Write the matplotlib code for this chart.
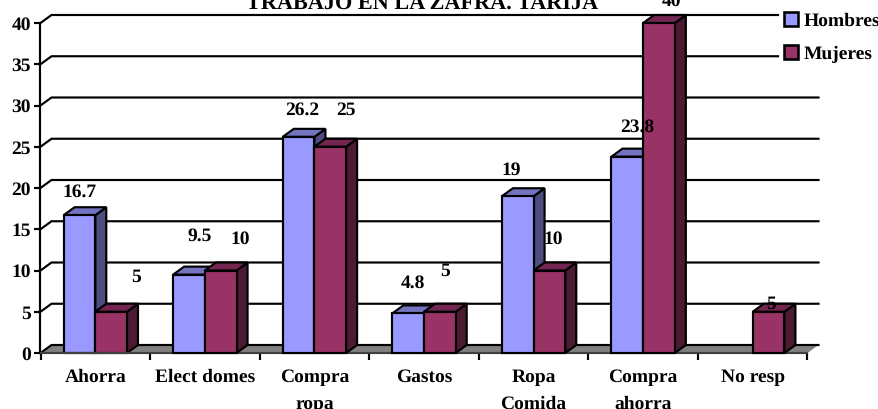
import numpy as np
import matplotlib
matplotlib.use("Agg")
import matplotlib.pyplot as plt
from matplotlib.patches import Patch, Polygon

plt.rcParams["text.hinting"] = "no_hinting"

categories = ["Ahorra", "Elect domes", "Compra\nropa", "Gastos", "Ropa\nComida", "Compra\nahorra", "No resp"]
hombres = [16.7, 9.5, 26.2, 4.8, 19, 23.8, None]
mujeres = [5, 10, 25, 5, 10, 40, 5]
y_ticks = [0, 5, 10, 15, 20, 25, 30, 35, 40]
title = "TRABAJO EN LA ZAFRA. TARIJA"

# where the labels ended up in the original chart, pixels from the bar top
hombres_off = [(0, 23), (11, 38), (4, 27), (5, 30), (-7, 26), (10, 29), None]
mujeres_off = [(25, 35), (19, 31), (16, 37), (5, 41), (4, 31), (12, 22), (3, 8)]

W, H = 879, 409
FONT = "Liberation Serif"
FS = 14
LW = 1.55

fig = plt.figure(figsize=(W / 100, H / 100), dpi=100)
ax = fig.add_axes([40.5 / W, (H - 353) / H, 767 / W, 330 / H])
ax.set_xlim(-0.5, 6.5)
ax.set_ylim(0, 40)

# depth of the fake 3D, in data units
px_x = 7 / 767
px_y = 40 / 330
dx = 11 * px_x
dy = 8 * px_y
bar_w = 31.7 * px_x


def poly(pts, color, z):
    ax.add_patch(Polygon(pts, closed=True, facecolor=color, edgecolor="black",
                         linewidth=LW, joinstyle="miter", clip_on=False, zorder=z))


def bar3d(x0, val, front, top, side, z):
    x1 = x0 + bar_w
    poly([(x1, 0), (x1 + dx, dy), (x1 + dx, val + dy), (x1, val)], side, z)
    poly([(x0, val), (x0 + dx, val + dy), (x1 + dx, val + dy), (x1, val)], top, z)
    poly([(x0, 0), (x1, 0), (x1, val), (x0, val)], front, z)


# gridlines run up the side wall then along the back
for v in y_ticks[1:]:
    end = 6.5 + dx
    if v >= 35:
        end = -0.5 + (778 - 40.5) * px_x
    ax.plot([-0.5, -0.5 + dx, end], [v, v + dy, v + dy], color="black", lw=LW,
            clip_on=False, zorder=1, solid_joinstyle="miter")

# floor
ax.add_patch(Polygon([(-0.5, 0), (-0.5 + dx, dy), (6.5 + dx, dy), (6.5, 0)], closed=True,
                     facecolor="#808080", edgecolor="none", clip_on=False, zorder=1.5))
ax.plot([-0.5, -0.5 + dx, 6.5 + dx], [0, dy, dy], color="black", lw=LW, clip_on=False, zorder=1.6)

for i in range(len(categories)):
    if hombres[i] is not None:
        bar3d(i - bar_w, hombres[i], "#9999FF", "#7373BF", "#4D4D80", 2 + i)
    if mujeres[i] is not None:
        bar3d(i, mujeres[i], "#993366", "#732650", "#4D1A33", 2.5 + i)

for i in range(len(categories)):
    if hombres[i] is not None:
        ax.annotate(str(hombres[i]), (i - bar_w / 2, hombres[i]), xytext=hombres_off[i],
                    textcoords="offset pixels", ha="center", va="center", family=FONT,
                    weight="bold", fontsize=FS, annotation_clip=False, zorder=20)
    ax.annotate(str(mujeres[i]), (i + bar_w / 2, mujeres[i]), xytext=mujeres_off[i],
                textcoords="offset pixels", ha="center", va="center", family=FONT,
                weight="bold", fontsize=FS, annotation_clip=False, zorder=20)

for s in ["top", "right"]:
    ax.spines[s].set_visible(False)
ax.spines["left"].set_linewidth(LW)
ax.spines["bottom"].set_linewidth(LW)
ax.spines["bottom"].set_color("#404040")
ax.set_axisbelow(True)

ax.set_yticks(y_ticks)
ax.set_yticklabels(y_ticks, family=FONT, weight="bold", fontsize=FS)
ax.tick_params(axis="y", length=4, width=LW, pad=3)
ax.set_xticks(np.arange(len(categories)))
ax.set_xticklabels(categories, family=FONT, weight="bold", fontsize=FS, linespacing=1.75)
ax.tick_params(axis="x", which="major", length=0, pad=11)
ax.set_xticks(np.arange(-0.5, 7), minor=True)
ax.tick_params(axis="x", which="minor", length=5, width=LW)

fig.text(422 / W, 1 - 9 / H, title, ha="center", va="baseline", family=FONT,
         weight="bold", fontsize=16)

handles = [Patch(facecolor="#9999FF", edgecolor="black", linewidth=LW * 1.2),
           Patch(facecolor="#993366", edgecolor="black", linewidth=LW * 1.2)]
fig.legend(handles, ["Hombres", "Mujeres"], loc="upper left",
           bbox_to_anchor=(780.5 / W, 1 - 8 / H), borderaxespad=0, borderpad=0.2,
           frameon=True, fancybox=False, edgecolor="none", facecolor="white", framealpha=1,
           handlelength=0.72, handleheight=0.72, handletextpad=0.25, labelspacing=0.78,
           prop={"family": FONT, "weight": "bold", "size": FS})

fig.savefig("out.png", dpi=100)
